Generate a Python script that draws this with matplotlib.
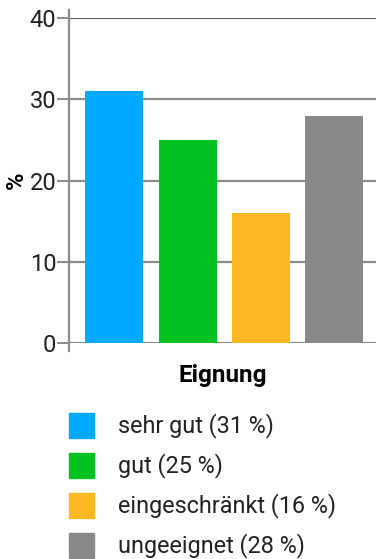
import matplotlib
matplotlib.use("Agg")
import matplotlib.pyplot as plt
from matplotlib.patches import Rectangle

categories = ["sehr gut", "gut", "eingeschränkt", "ungeeignet"]
values = [31, 25, 16, 28]
colors = ["#00AAFF", "#00C322", "#FDB824", "#898989"]
yticks = [0, 10, 20, 30, 40]

plt.rcParams["font.family"] = ["Roboto", "DejaVu Sans"]

fig = plt.figure(figsize=(3.76, 5.59), dpi=100)
ax = fig.add_axes([69 / 376, 1 - 343 / 559, 1 - 69 / 376, (343 - 18) / 559])

x = list(range(len(categories)))
ax.bar(x, values, width=0.79, color=colors, zorder=3)
ax.set_xlim(-0.62, 3.57)
ax.set_ylim(0, 40)
ax.set_yticks(yticks)
ax.set_xticks([])

# grid lines run across the whole plot area, top line a little darker
for t in yticks:
    ax.axhline(t, color="#666666" if t == 40 else "#8c8c8c", lw=1.6, zorder=1)

for side in ["top", "right", "bottom", "left"]:
    ax.spines[side].set_visible(False)
ax.plot([0, 0], [-0.025, 1.025], transform=ax.transAxes, color="#8c8c8c",
        lw=1.6, clip_on=False, zorder=4)
ax.tick_params(axis="y", length=9, width=1.4, color="#8c8c8c",
               labelsize=17, labelcolor="#222222", pad=0)

ax.set_ylabel("%", fontsize=17, fontweight="bold", labelpad=1)
ax.set_xlabel("Eignung", fontsize=17.5, fontweight="bold", labelpad=15)

# legend drawn in figure pixels below the axis title
for i, (cat, val, col) in enumerate(zip(categories, values, colors)):
    yc = 425 + i * 40
    fig.patches.append(Rectangle((69 / 376, 1 - (yc + 12.5) / 559), 25 / 376, 25 / 559,
                                 transform=fig.transFigure, color=col))
    fig.text(118 / 376, 1 - (yc + 1) / 559, f"{cat} ({val} %)", fontsize=16.8,
             va="center", ha="left", color="#222222")

fig.savefig("out.png", dpi=100)
